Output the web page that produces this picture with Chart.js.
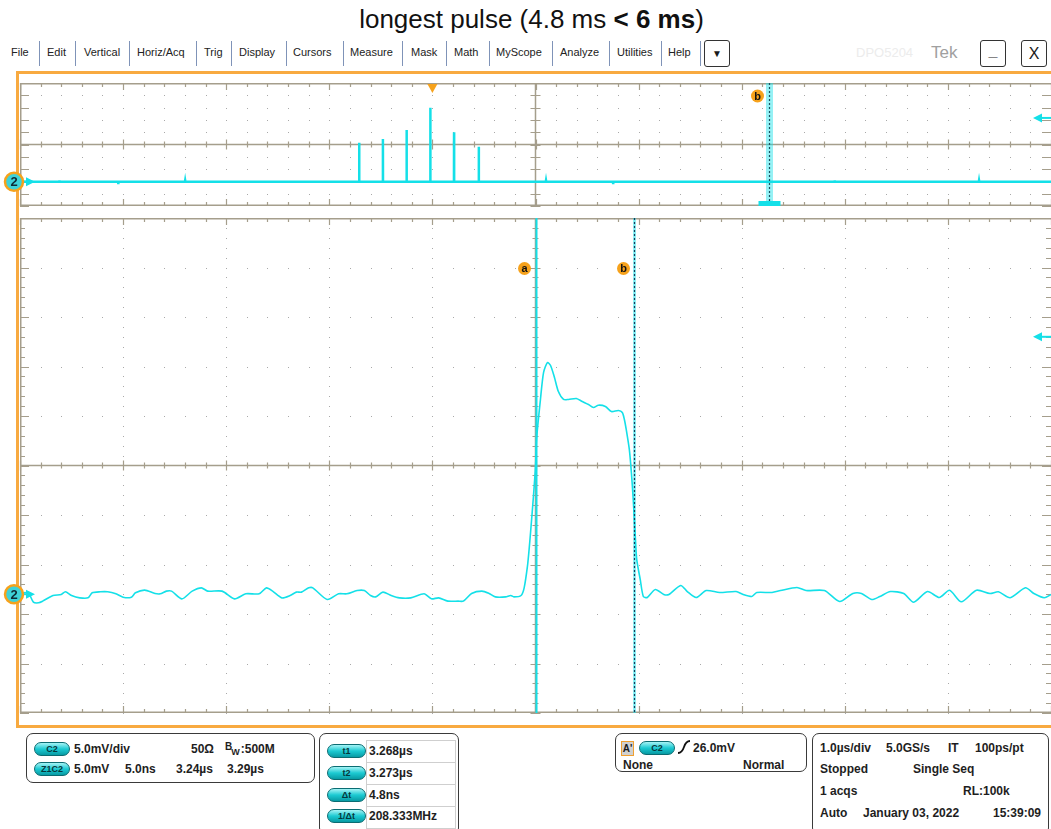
<!DOCTYPE html>
<html>
<head>
<meta charset="utf-8">
<script src="https://cdn.jsdelivr.net/npm/chart.js@4.4.0/dist/chart.umd.min.js"></script>
<style>
body{margin:0;width:1051px;height:829px;overflow:hidden;background:#fff;position:relative;font-family:"Liberation Sans",Arial,sans-serif;color:#1a1a1a}
.a{position:absolute;white-space:nowrap}
.menu{top:46px;font-size:11px;color:#222}
.sep{position:absolute;top:41px;width:1px;height:25px;background:#7f93b8}
.box{position:absolute;border:1.5px solid #3a3a3a;border-radius:7px;background:#fff}
.t{position:absolute;white-space:nowrap;font-weight:bold;font-size:12px;line-height:14px;color:#1e1e1e}
.pill{position:absolute;height:12px;border-radius:7px;background:linear-gradient(#a6f4f6,#1ccad2 50%,#089aa3);border:1px solid #0b6c72;font:bold 9px "Liberation Sans",Arial;color:#06383c;text-align:center;line-height:12px}
.cell{position:absolute;left:366px;width:88px;height:21px;border:1px solid #cfcfcf}
.wbtn{position:absolute;top:40px;width:24px;height:25px;border:1.5px solid #333;border-radius:3px;font-size:16px;text-align:center;line-height:25px}
canvas{position:absolute;left:0}
</style>
</head>
<body>
<div class="a" style="left:6px;width:1051px;top:4px;text-align:center;font-size:26px;color:#111">longest pulse (4.8 ms <b>&lt; 6 ms</b>)</div>

<div class="a menu" style="left:11px">File</div><div class="sep" style="left:39px"></div>
<div class="a menu" style="left:47px">Edit</div><div class="sep" style="left:75px"></div>
<div class="a menu" style="left:84px">Vertical</div><div class="sep" style="left:129px"></div>
<div class="a menu" style="left:137px">Horiz/Acq</div><div class="sep" style="left:196px"></div>
<div class="a menu" style="left:204px">Trig</div><div class="sep" style="left:231px"></div>
<div class="a menu" style="left:239px">Display</div><div class="sep" style="left:286px"></div>
<div class="a menu" style="left:293px">Cursors</div><div class="sep" style="left:343px"></div>
<div class="a menu" style="left:350px">Measure</div><div class="sep" style="left:402px"></div>
<div class="a menu" style="left:411px">Mask</div><div class="sep" style="left:446px"></div>
<div class="a menu" style="left:454px">Math</div><div class="sep" style="left:489px"></div>
<div class="a menu" style="left:496px">MyScope</div><div class="sep" style="left:552px"></div>
<div class="a menu" style="left:560px">Analyze</div><div class="sep" style="left:609px"></div>
<div class="a menu" style="left:617px">Utilities</div><div class="sep" style="left:661px"></div>
<div class="a menu" style="left:668px">Help</div><div class="sep" style="left:700px"></div>
<div class="wbtn" style="left:704px;font-size:10px">&#9660;</div>
<div class="a" style="left:856px;top:45px;font-size:13px;color:#ececec">DPO5204</div>
<div class="a" style="left:931px;top:43px;font-size:17px;color:#a0a0a0">Tek</div>
<div class="wbtn" style="left:980px;font-weight:bold;line-height:20px">_</div>
<div class="wbtn" style="left:1021px">X</div>

<div class="a" style="left:16px;top:71px;width:1045px;height:651px;border:3px solid #f8aa40"></div>

<canvas id="overview" width="1051" height="134" style="top:76px"></canvas>
<canvas id="zoomed" width="1051" height="508" style="top:212px"></canvas>

<!-- vertical channel box -->
<div class="box" style="left:26px;top:733px;width:287px;height:48px"></div>
<div class="pill" style="left:34px;top:742px;width:34px">C2</div>
<div class="t" style="left:74px;top:742px">5.0mV/div</div>
<div class="t" style="left:191px;top:742px">50&Omega;</div>
<div class="t" style="left:225px;top:742px"><span style="font-size:10px;position:relative;top:-3px">B</span><span style="font-size:9px;position:relative;top:2px;left:-1px">W</span>:500M</div>
<div class="pill" style="left:34px;top:762px;width:34px">Z1C2</div>
<div class="t" style="left:74px;top:762px">5.0mV</div>
<div class="t" style="left:125px;top:762px">5.0ns</div>
<div class="t" style="left:176px;top:762px">3.24&micro;s</div>
<div class="t" style="left:227px;top:762px">3.29&micro;s</div>

<!-- cursor box -->
<div class="box" style="left:319px;top:733px;width:138px;height:100px"></div>
<div class="cell" style="top:740px"></div>
<div class="cell" style="top:762px"></div>
<div class="cell" style="top:784px"></div>
<div class="cell" style="top:806px"></div>
<div class="pill" style="left:327px;top:744px;width:37px">t1</div>
<div class="t" style="left:369px;top:744px">3.268&micro;s</div>
<div class="pill" style="left:327px;top:766px;width:37px">t2</div>
<div class="t" style="left:369px;top:766px">3.273&micro;s</div>
<div class="pill" style="left:327px;top:788px;width:37px">&Delta;t</div>
<div class="t" style="left:369px;top:788px">4.8ns</div>
<div class="pill" style="left:327px;top:809px;width:37px">1/&Delta;t</div>
<div class="t" style="left:369px;top:809px">208.333MHz</div>

<!-- trigger box -->
<div class="box" style="left:615px;top:733px;width:190px;height:37px"></div>
<div class="a" style="left:621px;top:741px;width:11px;height:13px;background:#d0d0d0;border:1px solid #f0a030;font:bold 10px Arial;line-height:13px;text-align:center">A'</div>
<div class="pill" style="left:639px;top:741px;width:34px">C2</div>
<svg class="a" style="left:677px;top:740px" width="14" height="15"><path d="M1 13 Q5 13 7 7 Q9 1 13 1" stroke="#111" stroke-width="1.8" fill="none"/></svg>
<div class="t" style="left:693px;top:741px">26.0mV</div>
<div class="t" style="left:623px;top:758px">None</div>
<div class="t" style="left:743px;top:758px">Normal</div>

<!-- acquisition box -->
<div class="box" style="left:812px;top:733px;width:235px;height:100px"></div>
<div class="t" style="left:820px;top:741px">1.0&micro;s/div</div>
<div class="t" style="left:886px;top:741px">5.0GS/s</div>
<div class="t" style="left:948px;top:741px">IT</div>
<div class="t" style="left:975px;top:741px">100ps/pt</div>
<div class="t" style="left:820px;top:762px">Stopped</div>
<div class="t" style="left:913px;top:762px">Single Seq</div>
<div class="t" style="left:820px;top:784px">1 acqs</div>
<div class="t" style="left:963px;top:784px">RL:100k</div>
<div class="t" style="left:820px;top:806px">Auto</div>
<div class="t" style="left:863px;top:806px">January 03, 2022</div>
<div class="t" style="left:993px;top:806px">15:39:09</div>

<script>
// overview record (1.0 us/div), time in us, level in mV
const overviewTime=[-4.00,-3.62,-3.618,-3.616,-3.05,-3.048,-3.046,-2.40,-2.398,-2.396,-1.85,-1.848,-1.846,-1.30,-1.298,-1.296,
  -0.711,-0.71,-0.709,-0.481,-0.48,-0.479,-0.251,-0.25,-0.249,-0.021,-0.02,-0.019,0.209,0.21,0.211,0.449,0.45,0.451,
  1.10,1.102,1.104,1.75,1.752,1.754,2.50,2.502,2.504,3.90,3.902,3.904,4.60,4.602,4.604,5.30,5.302,5.304,6.00];
const overviewVolt=[-15.1,-15.1,-14.5,-15.1,-15.1,-15.7,-15.1,-15.1,-14.6,-15.1,-15.1,-15.6,-15.1,-15.1,-14.6,-15.1,
  -15.1,0.73,-15.1,-15.1,2.24,-15.1,-15.1,5.89,-15.1,-15.1,14.96,-15.1,-15.1,4.96,-15.1,-15.1,-0.89,-15.1,
  -15.1,-14.6,-15.1,-15.1,-15.6,-15.1,-15.1,-14.6,-15.1,-15.1,-14.5,-15.1,-15.1,-15.6,-15.1,-15.1,-14.6,-15.1,-15.1];

// zoom window (5.0 ns/div) around t1, time in ns, level in mV
const zoomTime=[-25,-24.6,-24.35,-24.1,-23.9,-23.4,-23.0,-22.8,-22.5,-22.1,-21.7,-21.5,-21.1,-20.75,-20.35,-20.0,-19.6,-19.4,
  -18.95,-18.45,-18.2,-17.9,-17.65,-17.15,-16.65,-16.2,-15.9,-15.2,-14.6,-14.05,-13.4,-13.05,-12.75,-12.3,-11.9,-11.6,
  -11.35,-11.0,-10.8,-10.1,-9.55,-9.15,-8.65,-8.3,-8.0,-7.75,-7.4,-7.0,-6.6,-6.05,-5.4,-5.05,-4.7,-4.25,-3.75,-3.5,
  -3.1,-2.6,-2.25,-1.95,-1.45,-1.2,-1.05,-0.7,-0.55,-0.39,-0.31,-0.24,-0.10,0.00,0.05,0.24,0.39,0.58,0.73,0.92,1.11,
  1.36,1.60,1.98,2.27,2.57,2.81,3.05,3.39,3.68,4.02,4.21,4.31,4.40,4.55,4.65,4.74,4.84,4.91,5.08,5.23,5.42,5.81,6.22,
  6.47,7.04,7.36,7.79,8.28,8.93,9.73,10.07,10.49,10.73,11.47,11.88,12.68,13.12,14.01,14.75,15.39,15.81,16.31,16.70,
  17.21,17.86,18.34,19.01,19.58,20.08,20.65,21.39,22.04,22.45,23.02,23.76,24.17,24.67,25.0];
const zoomVolt=[-12.9,-12.86,-13.80,-13.87,-13.70,-13.13,-13.03,-12.76,-13.13,-13.37,-13.37,-12.86,-12.76,-12.76,-12.96,-13.30,-13.30,-12.86,
  -12.59,-12.93,-12.96,-12.69,-12.69,-13.47,-12.69,-12.36,-12.69,-12.69,-13.47,-12.96,-12.96,-12.36,-12.69,-13.37,-13.13,-12.79,
  -12.79,-12.36,-12.36,-13.54,-12.96,-12.96,-12.63,-12.63,-13.13,-13.27,-12.79,-13.13,-13.37,-13.37,-12.96,-13.47,-13.37,-13.70,-13.70,-13.70,
  -12.93,-12.69,-12.93,-13.27,-13.27,-13.13,-13.27,-13.13,-12.36,-10.17,-8.48,-6.77,-3.13,-0.10,2.63,6.67,9.39,10.40,10.10,8.89,7.47,
  6.67,6.67,6.77,6.46,6.16,5.86,6.09,5.96,5.45,5.56,5.35,4.65,3.64,1.62,-0.71,-3.43,-7.17,-9.50,-11.52,-13.23,-13.33,-12.53,-13.03,
  -13.03,-12.12,-12.73,-13.33,-12.63,-12.83,-12.73,-13.03,-13.23,-12.83,-12.83,-12.63,-12.32,-12.63,-12.63,-13.74,-12.93,-12.93,-13.54,-13.23,
  -12.73,-12.93,-13.81,-12.73,-13.33,-12.60,-13.77,-12.60,-12.93,-12.76,-13.36,-12.35,-12.93,-13.36,-13.03];

const overviewRange=[-4,6];
const zoomRange=[-25,25];
const voltRange=[-25,25];
const triggerTime=0;
const overviewCursor=3.268;
const cursorA=0, cursorB=4.8;
const groundOverview=-15.1, groundZoom=-13.0;
const refOverview=10.8, refZoom=13.0;

const CYAN="#14e0e8", ORANGE="#f6a21c", GRID="#a59e8c", DOT="#a9a9a9";

function points(xs,ys){
    const out=[];
    for(var i=0;i<xs.length;i++){ out.push({x:xs[i],y:ys[i]}); }
    return out;
}

function drawGrid(chart,kind){
    const ctx=chart.ctx, a=chart.chartArea;
    const w=a.right-a.left, h=a.bottom-a.top;
    const cx=a.left+w/2, cy=a.top+h/2;
    ctx.save();
    ctx.fillStyle=DOT;
    if(kind==="top"){
        for(var i=0;i<=50;i++){
            for(var j=1;j<10;j++){
                if(j==5) continue;
                ctx.fillRect(Math.round(a.left+i*w/50),Math.round(a.top+j*h/10),1,1);
            }
        }
    }else{
        for(var i=1;i<10;i++){
            if(i==5) continue;
            for(var k=0;k<=50;k++){
                ctx.fillRect(Math.round(a.left+i*w/10),Math.round(a.top+k*h/50),1,1);
                ctx.fillRect(Math.round(a.left+k*w/50),Math.round(a.top+i*h/10),1,1);
            }
        }
    }
    ctx.strokeStyle=GRID;
    ctx.lineWidth=1.5;
    ctx.strokeRect(a.left+0.75,a.top+0.75,w,h-1.5);
    ctx.beginPath();
    ctx.moveTo(cx,a.top);ctx.lineTo(cx,a.bottom);
    ctx.moveTo(a.left,cy);ctx.lineTo(a.right,cy);
    ctx.stroke();
    ctx.lineWidth=1.2;
    ctx.beginPath();
    // ticks along x
    for(var i=0;i<=50;i++){
        var x=Math.round(a.left+i*w/50)+0.5;
        var big=(i%5==0);
        var L=big?7:4;
        ctx.moveTo(x,a.top);ctx.lineTo(x,a.top+L);
        ctx.moveTo(x,a.bottom);ctx.lineTo(x,a.bottom-L);
        var c=big?5:3;
        ctx.moveTo(x,cy-c);ctx.lineTo(x,cy+c);
    }
    // ticks along y
    var ny=(kind==="top")?10:50;
    for(var j=0;j<=ny;j++){
        var y=Math.round(a.top+j*h/ny)+0.5;
        var big=(kind==="top")||(j%5==0);
        var L=big?9:5;
        ctx.moveTo(a.left,y);ctx.lineTo(a.left+L,y);
        ctx.moveTo(a.right,y);ctx.lineTo(a.right-L,y);
        var c=big?5:3;
        ctx.moveTo(cx-c,y);ctx.lineTo(cx+c,y);
    }
    ctx.stroke();
    ctx.restore();
}

function label(ctx,x,y,txt){
    ctx.save();
    ctx.fillStyle=ORANGE;
    ctx.beginPath();ctx.arc(x,y,6.5,0,Math.PI*2);ctx.fill();
    ctx.fillStyle="#111";
    ctx.font="bold 11px 'Liberation Sans', Arial";
    ctx.textAlign="center";ctx.textBaseline="middle";
    ctx.fillText(txt,x,y+0.5);
    ctx.restore();
}

function groundMarker(chart,val){
    const ctx=chart.ctx;
    const y=chart.scales.y.getPixelForValue(val);
    ctx.save();
    ctx.fillStyle=CYAN;ctx.strokeStyle=CYAN;ctx.lineWidth=2;
    ctx.beginPath();ctx.moveTo(22,y);ctx.lineTo(30,y);ctx.stroke();
    ctx.beginPath();ctx.moveTo(35,y);ctx.lineTo(26,y-4.5);ctx.lineTo(26,y+4.5);ctx.closePath();ctx.fill();
    ctx.fillStyle="#3fd2d8";ctx.strokeStyle=ORANGE;ctx.lineWidth=2.5;
    ctx.beginPath();ctx.arc(14,y,9,0,Math.PI*2);ctx.fill();ctx.stroke();
    ctx.fillStyle="#0e2a35";
    ctx.font="bold 13px 'Liberation Sans', Arial";
    ctx.textAlign="center";ctx.textBaseline="middle";
    ctx.fillText("2",14,y+1);
    ctx.restore();
}

function refArrow(chart,val){
    const ctx=chart.ctx, a=chart.chartArea;
    const y=chart.scales.y.getPixelForValue(val);
    ctx.save();
    ctx.fillStyle=CYAN;ctx.strokeStyle=CYAN;ctx.lineWidth=2;
    ctx.beginPath();ctx.moveTo(1040,y);ctx.lineTo(a.right,y);ctx.stroke();
    ctx.beginPath();ctx.moveTo(1033,y);ctx.lineTo(1042,y-4.5);ctx.lineTo(1042,y+4.5);ctx.closePath();ctx.fill();
    ctx.restore();
}

const overviewPlugin={
    id:"overviewScope",
    beforeDatasetsDraw(chart){ drawGrid(chart,"top"); },
    afterDatasetsDraw(chart){
        const ctx=chart.ctx, a=chart.chartArea;
        const xs=chart.scales.x;
        // zoom cursor band
        var xb=Math.round(xs.getPixelForValue(overviewCursor))+0.5;
        ctx.save();
        ctx.fillStyle="rgba(20,224,232,0.45)";
        ctx.fillRect(xb-3.5,a.top,7,a.bottom-a.top);
        ctx.strokeStyle="#1c4f5e";ctx.lineWidth=1.2;ctx.setLineDash([2,2]);
        ctx.beginPath();ctx.moveTo(xb,a.top);ctx.lineTo(xb,a.bottom);ctx.stroke();
        ctx.setLineDash([]);
        ctx.fillStyle=CYAN;
        ctx.fillRect(xb-11,a.bottom-5,22,5);
        // trigger marker
        var xt=xs.getPixelForValue(triggerTime);
        ctx.fillStyle=ORANGE;
        ctx.beginPath();ctx.moveTo(xt-5,a.top+1);ctx.lineTo(xt+5,a.top+1);ctx.lineTo(xt,a.top+10);ctx.closePath();ctx.fill();
        ctx.restore();
        label(ctx,xb-12,a.top+13,"b");
        groundMarker(chart,groundOverview);
        refArrow(chart,refOverview);
    }
};

const zoomPlugin={
    id:"zoomScope",
    beforeDatasetsDraw(chart){ drawGrid(chart,"bottom"); },
    afterDatasetsDraw(chart){
        const ctx=chart.ctx, a=chart.chartArea;
        const xs=chart.scales.x;
        var xa=Math.round(xs.getPixelForValue(cursorA))+0.5;
        var xb=Math.round(xs.getPixelForValue(cursorB))+0.5;
        ctx.save();
        ctx.strokeStyle=CYAN;ctx.lineWidth=2;
        ctx.beginPath();ctx.moveTo(xa,a.top);ctx.lineTo(xa,a.bottom);ctx.stroke();
        ctx.lineWidth=2.5;ctx.strokeStyle="rgba(20,224,232,0.6)";
        ctx.beginPath();ctx.moveTo(xb,a.top);ctx.lineTo(xb,a.bottom);ctx.stroke();
        ctx.strokeStyle="#173a5a";ctx.lineWidth=1.2;ctx.setLineDash([2,2]);
        ctx.beginPath();ctx.moveTo(xb,a.top);ctx.lineTo(xb,a.bottom);ctx.stroke();
        ctx.restore();
        var ly=chart.scales.y.getPixelForValue(20);
        label(ctx,xa-12,ly+1,"a");
        label(ctx,xb-11,ly+1,"b");
        groundMarker(chart,groundZoom);
        refArrow(chart,refZoom);
    }
};

function baseOptions(xr,pad){
    return {
        responsive:false,
        devicePixelRatio:1,
        animation:false,
        events:[],
        layout:{padding:pad},
        plugins:{legend:{display:false},tooltip:{enabled:false}},
        scales:{
            x:{type:"linear",min:xr[0],max:xr[1],display:false},
            y:{min:voltRange[0],max:voltRange[1],display:false}
        }
    };
}

new Chart(document.getElementById("overview").getContext("2d"),{
    type:"line",
    data:{datasets:[{
        data:points(overviewTime,overviewVolt),
        borderColor:CYAN,
        borderWidth:2.5,
        pointRadius:0,
        tension:0
    }]},
    options:baseOptions(overviewRange,{left:20,top:7,right:0,bottom:4}),
    plugins:[overviewPlugin]
});

new Chart(document.getElementById("zoomed").getContext("2d"),{
    type:"line",
    data:{datasets:[{
        data:points(zoomTime,zoomVolt),
        borderColor:CYAN,
        borderWidth:1.6,
        pointRadius:0,
        tension:0.25
    }]},
    options:baseOptions(zoomRange,{left:20,top:6,right:0,bottom:7}),
    plugins:[zoomPlugin]
});
</script>
</body>
</html>
